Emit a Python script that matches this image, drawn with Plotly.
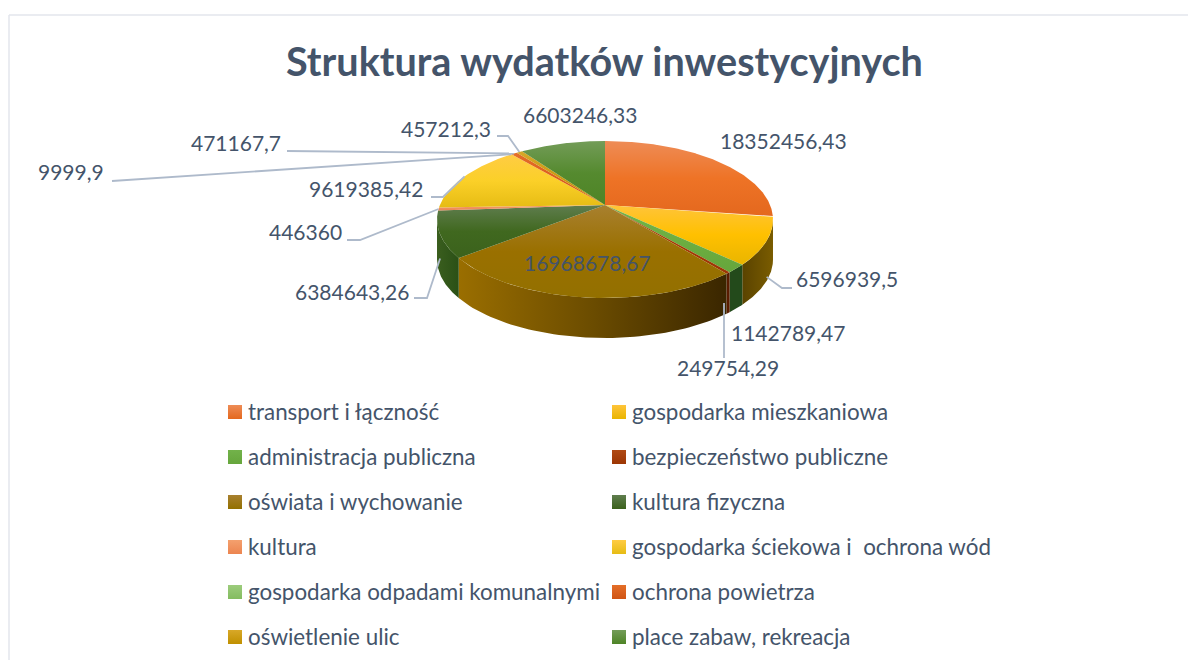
import numpy as np
import plotly.graph_objects as go

# ---------- data ----------
categories = ["transport i łączność", "gospodarka mieszkaniowa", "administracja publiczna",
              "bezpieczeństwo publiczne", "oświata i wychowanie", "kultura fizyczna", "kultura",
              "gospodarka ściekowa i  ochrona wód", "gospodarka odpadami komunalnymi",
              "ochrona powietrza", "oświetlenie ulic", "place zabaw, rekreacja"]
values = [18352456.43, 6596939.5, 1142789.47, 249754.29, 16968678.67, 6384643.26,
          446360, 9619385.42, 9999.9, 471167.7, 457212.3, 6603246.33]
title_text = "Struktura wydatków inwestycyjnych"

# ---------- styles ----------
top_colors = [["#EE8C56", "#EE7326", "#E4681E"], ["#FFC43A", "#FFC000", "#E9B500"],
              ["#72B24A", "#6CAE41", "#66A63C"], ["#B04A14", "#A63A05", "#9C3604"],
              ["#A8802F", "#9A7000", "#937000"], ["#5F7D4E", "#40681F", "#3B621C"],
              ["#F4A06E", "#F09060", "#EC8550"], ["#FFCC44", "#FBD028", "#E6BC14"],
              ["#9CCC7C", "#8CC56A", "#84BC60"], ["#E46E28", "#DC5F1C", "#D05414"],
              ["#D8A828", "#C99A10", "#C09000"], ["#739C58", "#558A2F", "#4E8426"]]
wall_colors = [["#5A3A1A", "#5A3A1A"], ["#5A4300", "#7A5C00"], ["#234A1B", "#234A1B"],
               ["#5A1C00", "#5A1C00"], ["#9A6E00", "#6B4C00", "#3A2600"], ["#3A5E1E", "#2A5016"],
               ["#7A4A20", "#7A4A20"], ["#7A6010", "#7A6010"], ["#4A6A30", "#4A6A30"],
               ["#7A3810", "#7A3810"], ["#6A5000", "#6A5000"], ["#2E4C1A", "#2E4C1A"]]
text_color = "#44546A"
leader_color = "#AEBACB"
font = "Lato"
label_size = 21
legend_size = 22.4
title_size = 39.6

# pie geometry in page pixels (perspective view of a disc)
CX, CY = 605, 205
A, B, K = 75.8, 165.1, 0.1847
DEPTH = 40
WALL_FROM = np.degrees(np.arccos(-K))
WALL_TO = 360 - WALL_FROM

def rim(theta_deg, drop=0.0):
    t = np.radians(theta_deg)
    u, v = np.sin(t), -np.cos(t)
    den = 1 - K * v
    return CX + B * u / den, CY + A * v / den + drop

# label placement in page pixels: centre-left x, centre y
label_pos = [(720, 140), (796, 278), (731, 332), (677, 367), (524, 262), (295, 291),
             (269, 231), (309, 188), (38, 171), (191, 142), (401, 128), (523, 114)]
# leader elbows: label-side points, then how far down the slice edge it lands
leaders = {1: ([(792, 288), (782, 288)], 36), 3: ([(724, 358)], 30), 5: ([(414, 298), (427, 298)], 24),
           6: ([(347, 240), (360, 240)], 0), 7: ([(431, 197), (443, 197)], 0),
           8: ([(112, 181)], 0), 9: ([(287, 151)], 0), 10: ([(497, 136), (508, 136)], 0)}
legend_x = [235, 619]
legend_rows = [412, 457, 502, 547, 592, 637]
legend_text_gap = 13
legend_text_lift = 1

# ---------- build ----------
vals = np.array(values, dtype=float)
edges = np.concatenate([[0], np.cumsum(vals) / vals.sum() * 360])
fig = go.Figure()

def scale(cols):
    return [[i / (len(cols) - 1), c] for i, c in enumerate(cols)]

# side walls
for i in range(len(vals)):
    a, b = max(edges[i], WALL_FROM), min(edges[i + 1], WALL_TO)
    if b <= a:
        continue
    th = np.linspace(a, b, 60)
    x1, y1 = rim(th)
    x2, y2 = rim(th[::-1], DEPTH)
    fig.add_trace(go.Scatter(x=np.r_[x1, x2], y=np.r_[y1, y2], mode="lines", fill="toself",
                             line=dict(width=0), hoverinfo="skip", showlegend=False,
                             fillgradient=dict(type="horizontal", colorscale=scale(wall_colors[i]))))
# top faces (the y axis runs downwards, so the gradient stops are given bottom first)
for i in range(len(vals)):
    th = np.linspace(edges[i], edges[i + 1], max(8, int((edges[i + 1] - edges[i]) * 2)))
    x1, y1 = rim(th)
    fig.add_trace(go.Scatter(x=np.r_[CX, x1, CX], y=np.r_[CY, y1, CY], mode="lines", fill="toself",
                             name=categories[i], line=dict(width=0), hoverinfo="name", showlegend=False,
                             fillgradient=dict(type="vertical", colorscale=scale(top_colors[i][::-1]))))
# leader lines
for i, (pts, drop) in leaders.items():
    ex, ey = rim((edges[i] + edges[i + 1]) / 2, drop)
    if i == 3:
        ex = pts[0][0]
    xs = [p[0] for p in pts] + [ex]
    ys = [p[1] for p in pts] + [ey]
    fig.add_trace(go.Scatter(x=xs, y=ys, mode="lines", line=dict(color=leader_color, width=1.8),
                             hoverinfo="skip", showlegend=False))
# value labels
annotations = []
for i, v in enumerate(values):
    annotations.append(dict(x=label_pos[i][0], y=label_pos[i][1], xref="x", yref="y", xanchor="left",
                            yanchor="middle", showarrow=False, text=str(v).replace(".", ","),
                            xshift=-2, font=dict(family=font, size=label_size, color=text_color)))
# legend (two columns, rows run left to right)
for i, c in enumerate(categories):
    lx, ly = legend_x[i % 2], legend_rows[i // 2]
    fig.add_trace(go.Scatter(x=[lx], y=[ly], mode="markers", hoverinfo="skip", showlegend=False,
                             marker=dict(symbol="square", size=14, color=top_colors[i][0], line=dict(width=0),
                                         gradient=dict(type="vertical", color=top_colors[i][2]))))
    annotations.append(dict(x=lx + legend_text_gap, y=ly - legend_text_lift, xref="x", yref="y", xanchor="left",
                            yanchor="middle", showarrow=False, text=c, xshift=-2,
                            font=dict(family=font, size=legend_size, color=text_color)))
annotations.append(dict(x=604, y=60, xref="x", yref="y", xanchor="center", yanchor="middle", showarrow=False,
                        text=f"<b>{title_text}</b>", font=dict(family=font, size=title_size, color=text_color)))

frame = dict(color="#E3E6EC", width=1.5)
fig.update_layout(
    width=1188, height=660, margin=dict(l=0, r=0, t=0, b=0), paper_bgcolor="white", plot_bgcolor="white",
    xaxis=dict(range=[0, 1188], visible=False, fixedrange=True),
    yaxis=dict(range=[660, 0], visible=False, fixedrange=True),
    showlegend=False, annotations=annotations,
    shapes=[dict(type="line", xref="x", yref="y", x0=9, x1=9, y0=15, y1=660, line=frame),
            dict(type="line", xref="x", yref="y", x0=9, x1=1188, y0=15, y1=15, line=frame)],
)
fig.write_html("out.html", config=dict(displayModeBar=False),
               post_script="document.body.style.margin='0';")
